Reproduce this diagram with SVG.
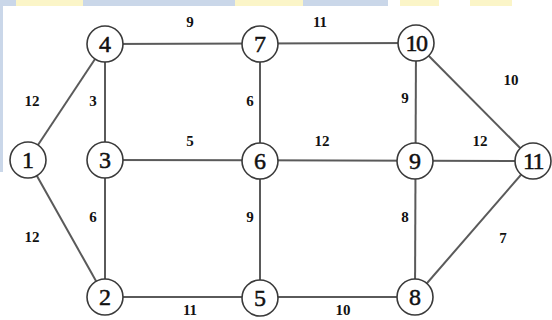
<svg xmlns="http://www.w3.org/2000/svg" width="552" height="320" viewBox="0 0 552 320">
<style>
.bg{fill:#ffffff}
.y{fill:#fbf5c8}
.b{fill:#cad7e9}
.e{stroke:#5a5a5a;stroke-width:2;fill:none}
.n circle{fill:#ffffff;stroke:#3a3a3a;stroke-width:1.6}
.n text{font-family:'Liberation Serif','DejaVu Serif','Times New Roman',serif;font-size:24px;fill:#111;stroke:#111;stroke-width:0.5;text-anchor:middle}
.w{font-family:'Liberation Serif','DejaVu Serif','Times New Roman',serif;font-size:15px;font-weight:bold;fill:#111;text-anchor:middle}
</style>
<rect class="bg" x="0" y="0" width="552" height="320"/>
<g id="background-strips">
<rect class="b" x="0" y="0" width="3" height="172"/>
<rect class="b" x="0" y="0" width="16" height="6"/>
<rect class="y" x="16" y="0" width="67" height="6"/>
<rect class="b" x="83" y="0" width="152" height="6"/>
<rect class="y" x="235" y="0" width="68" height="6"/>
<rect class="b" x="303" y="0" width="85" height="6"/>
<rect class="y" x="400" y="0" width="39" height="6"/>
<rect class="y" x="470" y="0" width="42" height="6"/>
</g>
<g id="edges">
<line class="e" x1="28" y1="160" x2="105" y2="44"/>
<line class="e" x1="28" y1="160" x2="105" y2="297"/>
<line class="e" x1="105" y1="44" x2="416" y2="43"/>
<line class="e" x1="105" y1="44" x2="105" y2="297"/>
<line class="e" x1="105" y1="160" x2="533" y2="161"/>
<line class="e" x1="105" y1="297" x2="415" y2="297"/>
<line class="e" x1="260" y1="44" x2="260" y2="298"/>
<line class="e" x1="416" y1="43" x2="415" y2="297"/>
<line class="e" x1="416" y1="43" x2="533" y2="161"/>
<line class="e" x1="415" y1="297" x2="533" y2="161"/>
</g>
<g id="edge-labels">
<text class="w" x="190" y="27">9</text>
<text class="w" x="320" y="27">11</text>
<text class="w" x="32" y="106">12</text>
<text class="w" x="93" y="106">3</text>
<text class="w" x="250" y="106">6</text>
<text class="w" x="405" y="103">9</text>
<text class="w" x="511" y="85">10</text>
<text class="w" x="190" y="146">5</text>
<text class="w" x="322" y="146">12</text>
<text class="w" x="480" y="146">12</text>
<text class="w" x="93" y="222">6</text>
<text class="w" x="250" y="222">9</text>
<text class="w" x="405" y="222">8</text>
<text class="w" x="32" y="242">12</text>
<text class="w" x="503" y="243">7</text>
<text class="w" x="190" y="315">11</text>
<text class="w" x="343" y="315">10</text>
</g>
<g id="node-1" class="n"><circle cx="28" cy="160" r="18"/><text x="28" y="168">1</text></g>
<g id="node-2" class="n"><circle cx="105" cy="297" r="18"/><text x="105" y="305">2</text></g>
<g id="node-3" class="n"><circle cx="105" cy="160" r="18"/><text x="105" y="168">3</text></g>
<g id="node-4" class="n"><circle cx="105" cy="44" r="18"/><text x="105" y="52">4</text></g>
<g id="node-5" class="n"><circle cx="260" cy="298" r="18"/><text x="260" y="306">5</text></g>
<g id="node-6" class="n"><circle cx="260" cy="161" r="18"/><text x="260" y="169">6</text></g>
<g id="node-7" class="n"><circle cx="260" cy="44" r="18"/><text x="260" y="52">7</text></g>
<g id="node-8" class="n"><circle cx="415" cy="297" r="18"/><text x="415" y="305">8</text></g>
<g id="node-9" class="n"><circle cx="415" cy="161" r="18"/><text x="415" y="169">9</text></g>
<g id="node-10" class="n"><circle cx="416" cy="43" r="18"/><text x="416" y="51" style="letter-spacing:-1.5px">10</text></g>
<g id="node-11" class="n"><circle cx="533" cy="161" r="18"/><text x="533" y="169" style="letter-spacing:-1.5px">11</text></g>
</svg>
